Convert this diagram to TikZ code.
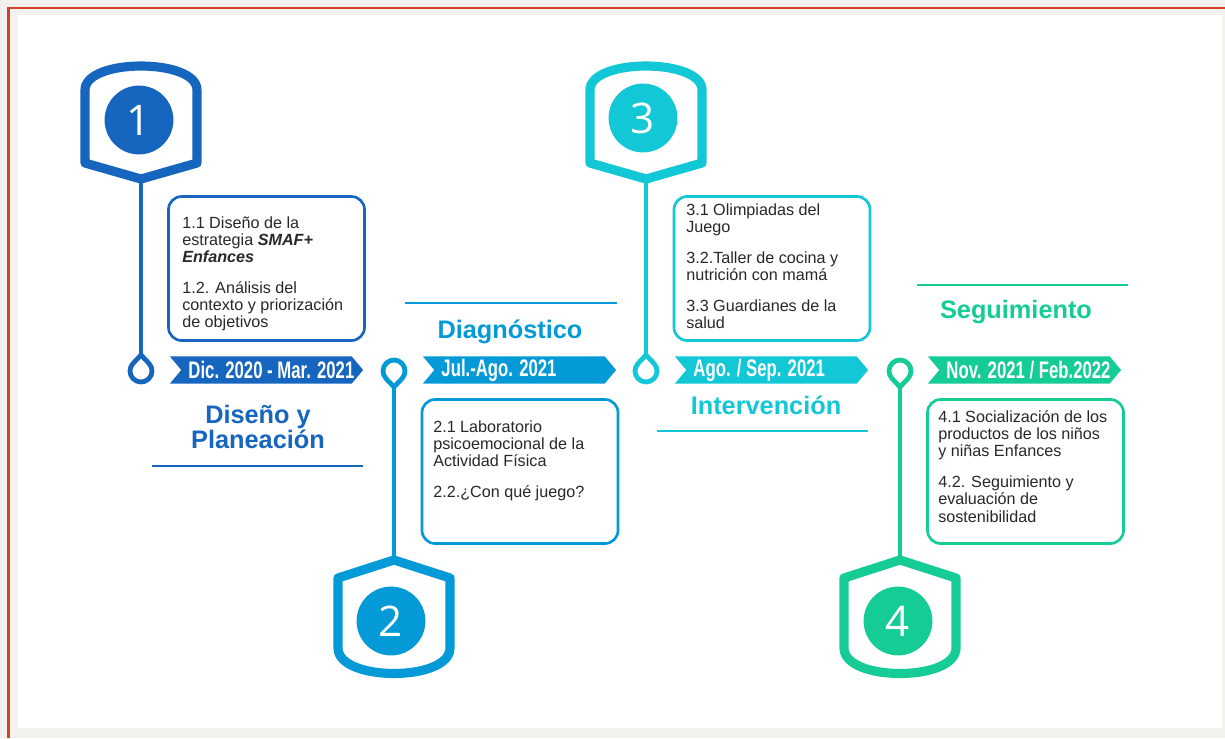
\documentclass[tikz,border=0pt]{standalone}
\usepackage{fontspec}
\setmainfont{Liberation Sans}
\newfontfamily\bannerfont[FakeStretch=0.7]{Liberation Sans}
\newfontfamily\digitfont{Open Sans}
\usetikzlibrary{shapes.symbols,calc}

\definecolor{plblue}{RGB}{22,102,192}
\definecolor{dgblue}{RGB}{3,154,215}
\definecolor{incyan}{RGB}{18,199,214}
\definecolor{sggreen}{RGB}{22,204,150}
\definecolor{framered}{RGB}{208,66,42}
\definecolor{pagegray}{RGB}{243,241,238}
\definecolor{boxtext}{RGB}{40,40,40}

\begin{document}
\begin{tikzpicture}[x=0.025cm, y=-0.025cm,
    badge/.style={draw=#1, line width=6.5pt, line join=round},
    stem/.style={draw=#1, line width=2.8pt},
    drop/.style={draw=#1, fill=white, line width=3.4pt, line join=round},
    disc/.style={circle, fill=#1, minimum size=1.72cm, inner sep=0pt, text=white, font=\digitfont\fontsize{30}{30}\selectfont},
    infobox/.style={draw=#1, line width=1.9pt, rounded corners=0.33cm, fill=white, minimum width=4.9cm, minimum height=3.6cm},
    infotext/.style={anchor=north west, align=left, inner sep=0pt, text=boxtext, font=\fontsize{11.5}{12.2}\selectfont},
    datebanner/.style={signal, signal from=west, signal to=east, signal pointer angle=100, fill=#1, text=white, minimum width=4.83cm, minimum height=0.68cm, inner sep=0pt, font=\bannerfont\bfseries\fontsize{17}{17}\selectfont},
    phase/.style={text=#1, align=center, font=\bfseries\fontsize{18}{16.5}\selectfont},
    phaserule/.style={draw=#1, line width=1.3pt}
]
    % Page and frame
    \useasboundingbox (0,0) rectangle (1225,738);
    \fill[pagegray] (0,0) rectangle (1225,738);
    \fill[white] (18,15) rectangle (1222,728);
    \draw[framered, line width=2pt] (8.5,738) -- (8.5,8) -- (1225,8);

    % Stage 1: Diseño y Planeación
    \draw[badge=plblue] (85,163) -- (85,90) .. controls (85,74) and (113,66) .. (141,66)
        .. controls (169,66) and (197,74) .. (197,90) -- (197,163) -- (141,179) -- cycle;
    \node[disc=plblue] (num1) at (139,120) {1};
    \coordinate (tip1) at (141,179);
    \coordinate (ring1) at (141,371);
    \draw[stem=plblue] (tip1) -- (ring1);
    \draw[drop=plblue] ($(ring1)+(0,-16)$) -- ($(ring1)+(316.6:11)$) arc[start angle=316.6, end angle=583.4, radius=11] -- cycle;
    \node[infobox=plblue] (box1) at (266.5,268.5) {};
    \node[infotext] (text1) at (182,216) {1.1 Diseño de la\\estrategia \textbf{\textit{SMAF+}}\\\textbf{\textit{Enfances}}\\[10pt]1.2. Análisis del\\contexto y priorización\\de objetivos};
    \node[datebanner=plblue] (date1) at (266.5,370) {\makebox[3.9cm][l]{Dic. 2020 - Mar. 2021}};
    \node[phase=plblue] (phase1) at (258,427) {Diseño y\\Planeación};
    \draw[phaserule=plblue] (152,466) -- (363,466);

    % Stage 2: Diagnóstico
    \draw[badge=dgblue] (394,560) -- (450,578) -- (450,648) .. controls (450,682) and (338,682) .. (338,648)
        -- (338,578) -- cycle;
    \node[disc=dgblue] (num2) at (391,621) {2};
    \coordinate (tip2) at (394,560);
    \coordinate (ring2) at (394,371);
    \draw[stem=dgblue] (tip2) -- (ring2);
    \draw[drop=dgblue] ($(ring2)+(0,16)$) -- ($(ring2)+(136.6:11)$) arc[start angle=136.6, end angle=403.4, radius=11] -- cycle;
    \node[infobox=dgblue] (box2) at (520,471.5) {};
    \node[infotext] (text2) at (433,420) {2.1 Laboratorio\\psicoemocional de la\\Actividad Física\\[10pt]2.2.¿Con qué juego?};
    \node[datebanner=dgblue] (date2) at (519.5,370) {\makebox[3.9cm][l]{Jul.-Ago. 2021}};
    \node[phase=dgblue] (phase2) at (510,332) {Diagnóstico};
    \draw[phaserule=dgblue] (405,303) -- (617,303);

    % Stage 3: Intervención
    \draw[badge=incyan] (590,163) -- (590,90) .. controls (590,74) and (618,66) .. (646,66)
        .. controls (674,66) and (702,74) .. (702,90) -- (702,163) -- (646,179) -- cycle;
    \node[disc=incyan] (num3) at (643,118) {3};
    \coordinate (tip3) at (646,179);
    \coordinate (ring3) at (646,371);
    \draw[stem=incyan] (tip3) -- (ring3);
    \draw[drop=incyan] ($(ring3)+(0,-16)$) -- ($(ring3)+(316.6:11)$) arc[start angle=316.6, end angle=583.4, radius=11] -- cycle;
    \node[infobox=incyan] (box3) at (772,268.5) {};
    \node[infotext] (text3) at (686,203) {3.1 Olimpiadas del\\Juego\\[10pt]3.2.Taller de cocina y\\nutrición con mamá\\[10pt]3.3 Guardianes de la\\salud};
    \node[datebanner=incyan] (date3) at (771.5,370) {\makebox[3.9cm][l]{Ago. / Sep. 2021}};
    \node[phase=incyan] (phase3) at (766,405) {Intervención};
    \draw[phaserule=incyan] (657,431) -- (868,431);

    % Stage 4: Seguimiento
    \draw[badge=sggreen] (900,560) -- (956,578) -- (956,648) .. controls (956,682) and (844,682) .. (844,648)
        -- (844,578) -- cycle;
    \node[disc=sggreen] (num4) at (898,621) {4};
    \coordinate (tip4) at (900,560);
    \coordinate (ring4) at (900,371);
    \draw[stem=sggreen] (tip4) -- (ring4);
    \draw[drop=sggreen] ($(ring4)+(0,16)$) -- ($(ring4)+(136.6:11)$) arc[start angle=136.6, end angle=403.4, radius=11] -- cycle;
    \node[infobox=sggreen] (box4) at (1025.5,471.5) {};
    \node[infotext] (text4) at (938,410) {4.1 Socialización de los\\productos de los niños\\y niñas Enfances\\[10pt]4.2. Seguimiento y\\evaluación de\\sostenibilidad};
    \node[datebanner=sggreen] (date4) at (1024.5,370) {\makebox[3.9cm][l]{Nov. 2021 / Feb.2022}};
    \node[phase=sggreen] (phase4) at (1016,312) {Seguimiento};
    \draw[phaserule=sggreen] (917,285) -- (1128,285);
\end{tikzpicture}
\end{document}
